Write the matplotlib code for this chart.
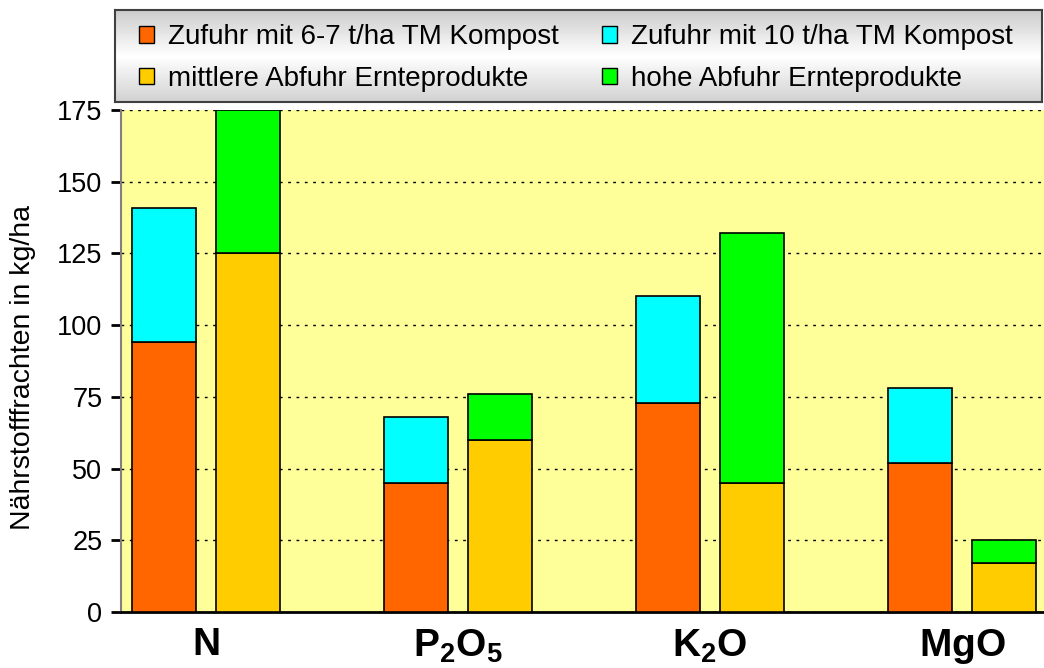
import matplotlib
matplotlib.use("Agg")
import matplotlib.pyplot as plt
import numpy as np
from matplotlib.patches import Patch

plt.rcParams['font.family'] = ['Liberation Sans', 'DejaVu Sans']
plt.rcParams['mathtext.fontset'] = 'custom'
plt.rcParams['mathtext.rm'] = 'Liberation Sans'
plt.rcParams['mathtext.bf'] = 'Liberation Sans:bold'

categories = [r'$\mathbf{N}$', r'$\mathbf{P_2O_5}$', r'$\mathbf{K_2O}$', r'$\mathbf{MgO}$']
zufuhr_67 = [94, 45, 73, 52]          # Zufuhr mit 6-7 t/ha TM Kompost
zufuhr_10 = [141, 68, 110, 78]        # Zufuhr mit 10 t/ha TM Kompost (total)
abfuhr_mittel = [125, 60, 45, 17]     # mittlere Abfuhr Ernteprodukte
abfuhr_hoch = [175, 76, 132, 25]      # hohe Abfuhr Ernteprodukte (total)
yticks = [0, 25, 50, 75, 100, 125, 150, 175]

c_orange = '#FF6600'
c_cyan = '#00FFFF'
c_yellow = '#FFCC00'
c_green = '#00FF00'

W, H = 1044, 668
fig = plt.figure(figsize=(W / 100, H / 100), dpi=100)
ax = fig.add_axes([121 / W, 1 - 612 / H, (W - 121) / W, (612 - 110) / H])
ax.set_facecolor('#FFFF99')

x = np.arange(len(categories))
off = 0.1667
bw = 0.254
z67 = np.array(zufuhr_67)
z10 = np.array(zufuhr_10)
am = np.array(abfuhr_mittel)
ah = np.array(abfuhr_hoch)

kw = dict(width=bw, edgecolor='black', linewidth=1.2, zorder=3)
ax.bar(x - off, z67, color=c_orange, **kw)
ax.bar(x - off, z10 - z67, bottom=z67, color=c_cyan, **kw)
ax.bar(x + off, am, color=c_yellow, **kw)
ax.bar(x + off, ah - am, bottom=am, color=c_green, **kw)

ax.set_xlim(-0.337, 3.325)
ax.set_ylim(0, 175)
ax.set_yticks(yticks)
ax.set_yticklabels([str(v) for v in yticks], fontsize=19.5)
ax.set_xticks(x)
ax.set_xticklabels(categories, fontsize=28)
ax.tick_params(axis='x', length=0, pad=11)
ax.tick_params(axis='y', length=7.5, width=2, direction='out', pad=6)
ax.yaxis.grid(True, linestyle=(0, (2, 4)), color='black', linewidth=1, zorder=1)
ax.set_axisbelow(True)
ax.spines['top'].set_visible(False)
ax.spines['right'].set_visible(False)
ax.spines['left'].set_color('#808080')
ax.spines['left'].set_linewidth(1.5)
ax.spines['bottom'].set_linewidth(2)
ax.set_ylabel('Nährstofffrachten in kg/ha', fontsize=20.5)
ax.yaxis.set_label_coords((36 - 121) / (W - 121), (612 - 367) / 502)

# legend box with gradient background
lx0, ly0, lx1, ly1 = 115, 10, 1042, 102
lax = fig.add_axes([lx0 / W, 1 - ly1 / H, (lx1 - lx0) / W, (ly1 - ly0) / H])
grad = np.concatenate([np.linspace(0.80, 1.0, 50), np.linspace(1.0, 0.82, 50)])
lax.imshow(grad[:, None], aspect='auto', cmap='gray', vmin=0, vmax=1,
           extent=[0, 1, 0, 1])
lax.set_xticks([])
lax.set_yticks([])
for s in lax.spines.values():
    s.set_color('#404040')
    s.set_linewidth(1.5)

handles = [Patch(facecolor=c_orange, edgecolor='black'),
           Patch(facecolor=c_yellow, edgecolor='black'),
           Patch(facecolor=c_cyan, edgecolor='black'),
           Patch(facecolor=c_green, edgecolor='black')]
labels = ['Zufuhr mit 6-7 t/ha TM Kompost', 'mittlere Abfuhr Ernteprodukte',
          'Zufuhr mit 10 t/ha TM Kompost', 'hohe Abfuhr Ernteprodukte']
lax.legend(handles, labels, loc='upper left', ncol=2, frameon=False,
           fontsize=20, handlelength=0.55, handleheight=0.55, handletextpad=0.5,
           columnspacing=1.55, labelspacing=0.57, borderaxespad=0, borderpad=0,
           bbox_to_anchor=(24 / (lx1 - lx0), 1 - 14 / (ly1 - ly0)))

fig.savefig('out.png', dpi=100)
